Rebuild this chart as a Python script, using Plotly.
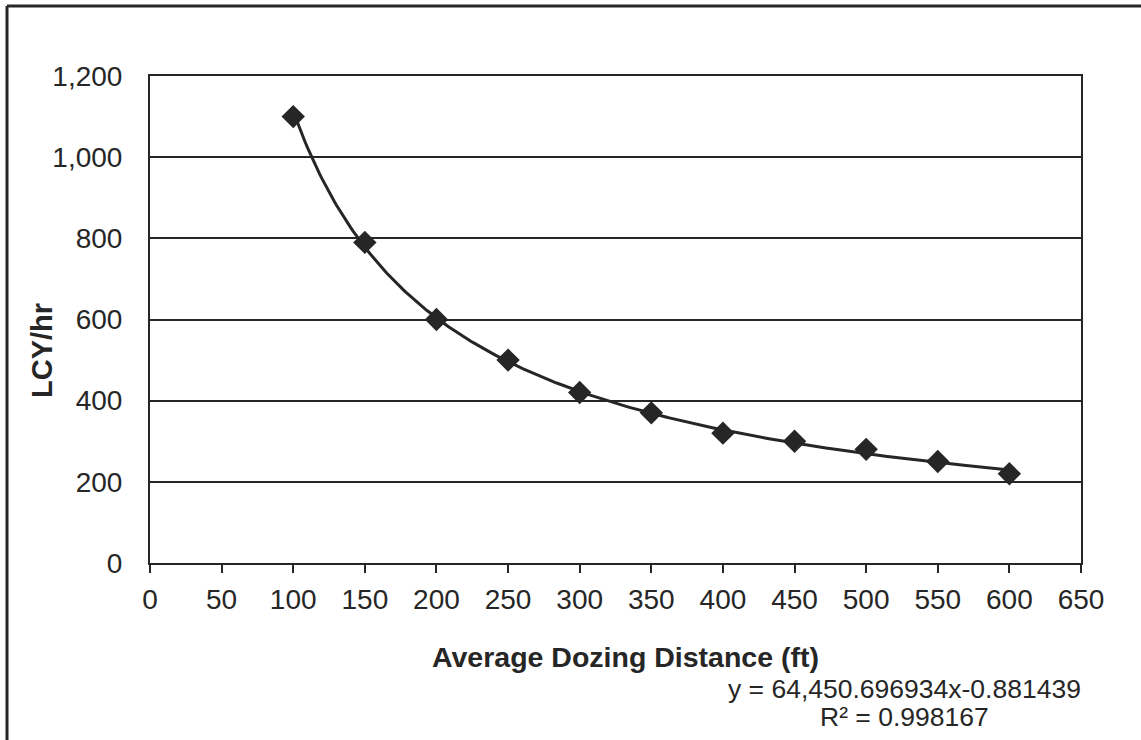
import numpy as np
import plotly.graph_objects as go

# Production vs. haul distance
distance_ft = [100, 150, 200, 250, 300, 350, 400, 450, 500, 550, 600]
lcy_per_hr = [1100, 790, 600, 500, 420, 370, 320, 300, 280, 250, 220]

# Power trendline coefficients (y = a * x^b)
trend_a = 64450.696934
trend_b = -0.881439
trend_r2 = 0.998167

x_ticks = list(range(0, 651, 50))
y_ticks = list(range(0, 1201, 200))

W, H = 1141, 740
L, R, T, B = 150, 1081, 76, 563  # plot-area edges in pixels
INK = "#262626"
FONT = "Liberation Sans, Arial, sans-serif"


def px_x(p):
    return (p - L) / (R - L)


def px_y(p):
    return (B - p) / (B - T)


trend_x = np.linspace(distance_ft[0], distance_ft[-1], 300)
trend_y = trend_a * trend_x ** trend_b

fig = go.Figure()
fig.add_trace(go.Scatter(
    x=trend_x, y=trend_y, mode="lines",
    line=dict(color=INK, width=3), hoverinfo="skip", showlegend=False,
))
fig.add_trace(go.Scatter(
    x=distance_ft, y=lcy_per_hr, mode="markers",
    marker=dict(symbol="diamond", size=18, color=INK, line=dict(width=0)),
    showlegend=False,
))

fig.update_layout(
    width=W, height=H,
    margin=dict(l=L, r=W - R, t=T, b=H - B),
    paper_bgcolor="white", plot_bgcolor="white",
    font=dict(family=FONT, size=28, color=INK),
    xaxis=dict(
        range=[0, 650], tickvals=x_ticks, ticktext=[str(v) for v in x_ticks],
        showgrid=False, zeroline=False,
        showline=True, linecolor=INK, linewidth=2, mirror=True,
        ticks="outside", ticklen=8, tickwidth=2, tickcolor=INK,
        ticklabelstandoff=2,
    ),
    yaxis=dict(
        range=[0, 1200], tickvals=y_ticks, ticktext=[f"{v:,}" for v in y_ticks],
        showgrid=True, gridcolor=INK, gridwidth=2, zeroline=False,
        showline=True, linecolor=INK, linewidth=2, mirror=True,
        ticks="", ticklabelstandoff=20,
    ),
    annotations=[
        dict(text="<b>Average Dozing Distance (ft)</b>", xref="paper", yref="paper",
             x=px_x(625), y=px_y(657), showarrow=False, font=dict(size=28.5),
             xanchor="center", yanchor="middle"),
        dict(text="<b>LCY/hr</b>", xref="paper", yref="paper",
             x=px_x(42), y=px_y(351), showarrow=False, textangle=-90,
             font=dict(size=29), xanchor="center", yanchor="middle"),
        dict(text=f"y = {trend_a:,.6f}x{trend_b:.6f}", xref="paper", yref="paper",
             x=px_x(904), y=px_y(689), showarrow=False, font=dict(size=26.5),
             xanchor="center", yanchor="middle"),
        dict(text=f"R² = {trend_r2:.6f}", xref="paper", yref="paper",
             x=px_x(904), y=px_y(717), showarrow=False, font=dict(size=26.5),
             xanchor="center", yanchor="middle"),
    ],
    shapes=[
        # outer frame around the chart
        dict(type="line", xref="paper", yref="paper",
             x0=px_x(7), x1=px_x(W), y0=px_y(6), y1=px_y(6),
             line=dict(color=INK, width=3)),
        dict(type="line", xref="paper", yref="paper",
             x0=px_x(7), x1=px_x(7), y0=px_y(6), y1=px_y(H),
             line=dict(color=INK, width=3)),
    ],
)

fig.write_html("out.html")
